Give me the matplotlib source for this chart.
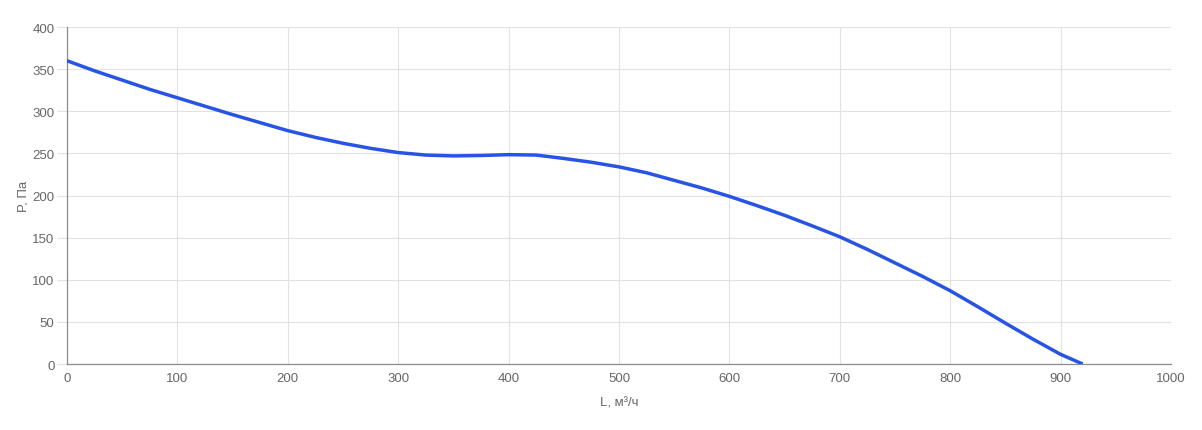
import matplotlib
matplotlib.use("Agg")
import matplotlib.pyplot as plt

# flow L, m3/h and pressure P, Pa
flow = [0, 25, 50, 75, 100, 125, 150, 175, 200, 225, 250, 275, 300, 325,
        350, 375, 400, 425, 450, 475, 500, 525, 550, 575, 600, 625, 650,
        675, 700, 725, 750, 775, 800, 825, 850, 875, 900, 920]
pressure = [360, 348, 337, 326, 316, 306, 296, 286.5, 277, 269, 262, 256, 251,
            248, 247, 247.5, 248.5, 248, 244, 239.5, 234, 227, 218, 209, 199,
            188, 176.5, 164, 151, 136, 120, 104, 87, 68, 48.5, 29.5, 11.5, 0]

x_ticks = [0, 100, 200, 300, 400, 500, 600, 700, 800, 900, 1000]
y_ticks = [0, 50, 100, 150, 200, 250, 300, 350, 400]

LINE_COLOR = "#2754e4"
TEXT_COLOR = "#666666"
GRID_COLOR = "#e2e2e2"
AXIS_COLOR = "#8c8c8c"

plt.rcParams["font.family"] = ["Liberation Sans", "DejaVu Sans"]


def main():
    fig = plt.figure(figsize=(12.02, 4.31), dpi=100)
    ax = fig.add_axes([0.0557, 0.1531, 0.9185, 0.7819])

    ax.plot(flow, pressure, color=LINE_COLOR, linewidth=2.5,
            solid_capstyle="butt", solid_joinstyle="round", zorder=3)

    ax.set_xlim(0, 1000)
    ax.set_ylim(0, 400)
    ax.set_xticks(x_ticks)
    ax.set_yticks(y_ticks)
    ax.grid(True, color=GRID_COLOR, linewidth=0.8)
    ax.set_axisbelow(True)

    for side in ["top", "right"]:
        ax.spines[side].set_visible(False)
    for side in ["left", "bottom"]:
        ax.spines[side].set_color(AXIS_COLOR)
        ax.spines[side].set_linewidth(0.9)

    ax.tick_params(axis="y", length=7, color=GRID_COLOR, labelcolor=TEXT_COLOR,
                   labelsize=9.5, pad=2)
    ax.tick_params(axis="x", length=0, labelcolor=TEXT_COLOR,
                   labelsize=9.5, pad=6)

    ax.set_xlabel("L, м³/ч", color=TEXT_COLOR, fontsize=9.5, labelpad=9)
    ax.set_ylabel("P, Па", color=TEXT_COLOR, fontsize=9.5, labelpad=2)

    fig.savefig("out.png", dpi=100)


if __name__ == "__main__":
    main()
